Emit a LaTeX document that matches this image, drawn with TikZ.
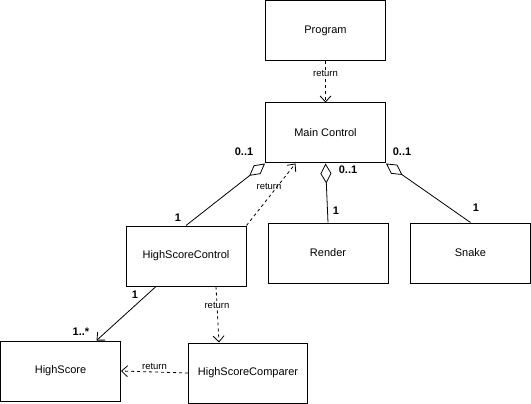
\documentclass[tikz,border=0pt]{standalone}
\usepackage{fontspec}
\setmainfont{Liberation Sans}
\usetikzlibrary{arrows.meta}
\begin{document}
\begin{tikzpicture}[x=1pt,y=-1pt,
  box/.style={draw,line width=1pt,minimum width=120pt,minimum height=60pt,inner sep=0pt,font=\fontsize{11}{13}\selectfont},
  conn/.style={line width=0.8pt},
  dep/.style={line width=0.8pt,dashed,dash pattern=on 3pt off 3pt,-{Straight Barb[length=6pt,width=11pt,line width=0.8pt]}},
  agg/.style={line width=0.8pt,{Diamond[open,length=20pt,width=11pt,line width=0.8pt]}-},
  nav/.style={line width=0.8pt,-{Straight Barb[length=6pt,width=11pt,line width=0.8pt]}},
  ret/.style={font=\fontsize{9.5}{11}\selectfont,fill=white,inner sep=1pt},
  mult/.style={font=\bfseries\fontsize{11}{13}\selectfont,inner sep=0pt}]
\useasboundingbox (0,0) rectangle (531,404);
\node[box] (prog) at (325.5,31) {Program};
\node[box] (mc) at (325.5,133) {Main Control};
\node[box] (hsc) at (186,256) {HighScoreControl};
\node[box] (ren) at (328,253) {Render};
\node[box] (snk) at (470.5,253) {Snake};
\node[box] (hs) at (60.5,371) {HighScore};
\node[box,minimum width=119pt] (cmp) at (248,373) {HighScoreComparer};

\draw[dep] (prog.south) -- (mc.north) node[ret,pos=0.3] (r1) {return};
\draw[agg] (mc.south west) -- (hsc.north);
\draw[dep] (hsc.north east) -- ([xshift=-30pt]mc.south);
\node[ret,fill=none] (r2) at (269,186) {return};
\draw[agg] (mc.south) -- (ren.north);
\draw[agg] (mc.south east) -- (snk.north);
\draw[nav] ([xshift=-30pt]hsc.south) -- ([xshift=36pt]hs.north);
\draw[dep] ([xshift=30pt]hsc.south) -- ([xshift=-29pt]cmp.north) node[ret,pos=0.33] (r3) {return};
\draw[dep] (cmp.west) -- (hs.east) node[ret,pos=0.5,above=1pt,fill=none] (r4) {return};

\node[mult] (m1) at (244,152) {0..1};
\node[mult] (m2) at (178,218) {1};
\node[mult] (m3) at (348,170) {0..1};
\node[mult] (m4) at (336,211) {1};
\node[mult] (m5) at (402,152) {0..1};
\node[mult] (m6) at (476,208) {1};
\node[mult] (m7) at (135,295) {1};
\node[mult] (m8) at (81,332) {1..*};
\end{tikzpicture}
\end{document}
